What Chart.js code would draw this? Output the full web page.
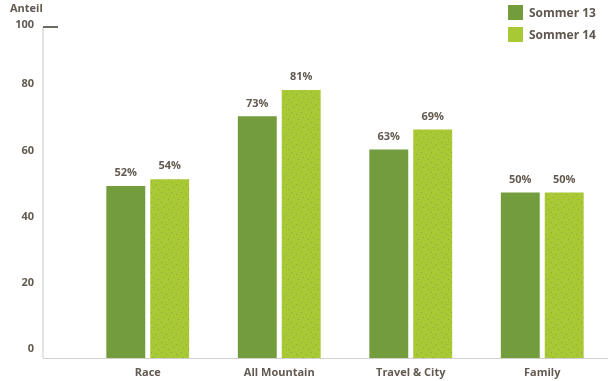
<!DOCTYPE html>
<html>
<head>
<meta charset="utf-8">
<script src="https://cdn.jsdelivr.net/npm/chart.js@4"></script>
<style>
    body { margin: 0; background: #fff; }
    #wrap { position: relative; width: 612px; height: 381px; }
    #legend { position: absolute; left: 508px; top: 5px; font: bold 12px 'Open Sans', sans-serif; color: #5f584f; }
    .item { display: flex; align-items: center; height: 15px; margin-bottom: 7px; }
    .box { width: 15px; height: 15px; margin-right: 6px; }
</style>
</head>
<body>
<div id="wrap">
    <canvas id="chart" width="612" height="381"></canvas>
    <div id="legend"></div>
</div>
<script>
const categories = ['Race', 'All Mountain', 'Travel & City', 'Family'];
const seriesNames = ['Sommer 13', 'Sommer 14'];
const sommer13 = [52, 73, 63, 50];
const sommer14 = [54, 81, 69, 50];
const yTicks = [0, 20, 40, 60, 80, 100];

const textColor = '#625a50';
const font = "'Open Sans', sans-serif";

// dotted lime fill for the second series
const makeDots = () => {
    const c = document.createElement('canvas');
    c.width = 10;
    c.height = 10;
    const g = c.getContext('2d');
    g.fillStyle = '#a9c934';
    g.fillRect(0, 0, 10, 10);
    g.fillStyle = 'rgba(120, 125, 110, 0.55)';
    [[1, 2], [6, 4], [3, 7], [8, 9]].forEach(([x, y]) => g.fillRect(x, y, 1, 1));
    return g.createPattern(c, 'repeat');
};

const colors = ['#739c3c', makeDots()];
const legendColors = ['#739c3c', '#a9c934'];

const axisDecor = {
    id: 'axisDecor',
    beforeDatasetsDraw(chart) {
        const { ctx, chartArea, scales: { y } } = chart;
        const axisX = 43;
        const base = y.getPixelForValue(0);
        const top = y.getPixelForValue(100);
        ctx.save();
        ctx.strokeStyle = '#dadada';
        ctx.lineWidth = 1.5;
        ctx.beginPath();
        ctx.moveTo(axisX, top);
        ctx.lineTo(axisX, base);
        ctx.stroke();
        ctx.strokeStyle = '#d0d0d0';
        ctx.lineWidth = 1;
        ctx.beginPath();
        ctx.moveTo(axisX, base + 0.5);
        ctx.lineTo(chartArea.right, base + 0.5);
        ctx.stroke();
        ctx.strokeStyle = '#6f6a64';
        ctx.lineWidth = 2;
        ctx.beginPath();
        ctx.moveTo(axisX, top);
        ctx.lineTo(axisX + 15, top);
        ctx.stroke();
        ctx.fillStyle = textColor;
        ctx.font = 'bold 11px ' + font;
        ctx.textAlign = 'left';
        ctx.textBaseline = 'middle';
        ctx.fillText('Anteil', 10, 9);
        ctx.restore();
    },
    afterDatasetsDraw(chart) {
        const { ctx } = chart;
        ctx.save();
        ctx.fillStyle = textColor;
        ctx.font = 'bold 11px ' + font;
        ctx.textAlign = 'center';
        ctx.textBaseline = 'middle';
        chart.data.datasets.forEach((ds, i) => {
            chart.getDatasetMeta(i).data.forEach((bar, j) => {
                ctx.fillText(ds.data[j] + '%', bar.x, bar.y - 13);
            });
        });
        ctx.restore();
    }
};

const datasets = [sommer13, sommer14].map((data, i) => ({
    label: seriesNames[i],
    data,
    backgroundColor: colors[i],
    borderWidth: 0,
    categoryPercentage: 0.668,
    barPercentage: 0.886,
}));

new Chart('chart', {
    type: 'bar',
    data: { labels: categories, datasets },
    options: {
        responsive: false,
        animation: false,
        layout: { padding: { top: 27, right: 4, left: 0, bottom: 0 } },
        plugins: {
            legend: { display: false },
            tooltip: { enabled: false },
        },
        scales: {
            x: {
                afterFit: (scale) => { scale.height = 23; },
                grid: { display: false, drawTicks: false },
                border: { display: false },
                ticks: { color: textColor, font: { family: font, size: 11, weight: 'bold' }, padding: 8 },
            },
            y: {
                min: 0,
                max: 100,
                afterFit: (scale) => {
                    scale.width = 82;
                    scale.paddingTop = 0;
                    scale.paddingBottom = 0;
                },
                afterBuildTicks: (scale) => { scale.ticks = yTicks.map(v => ({ value: v })); },
                grid: { display: false, drawTicks: false },
                border: { display: false },
                ticks: {
                    color: textColor,
                    font: { family: font, size: 11, weight: 'bold' },
                    padding: 48,
                    labelOffset: -9,
                    callback: (v) => v === 100 ? ['', '100'] : v,
                },
            },
        },
    },
    plugins: [axisDecor],
});

document.getElementById('legend').innerHTML = seriesNames.map((name, i) =>
    `<div class="item"><div class="box" style="background:${legendColors[i]}"></div>${name}</div>`
).join('');
</script>
</body>
</html>
